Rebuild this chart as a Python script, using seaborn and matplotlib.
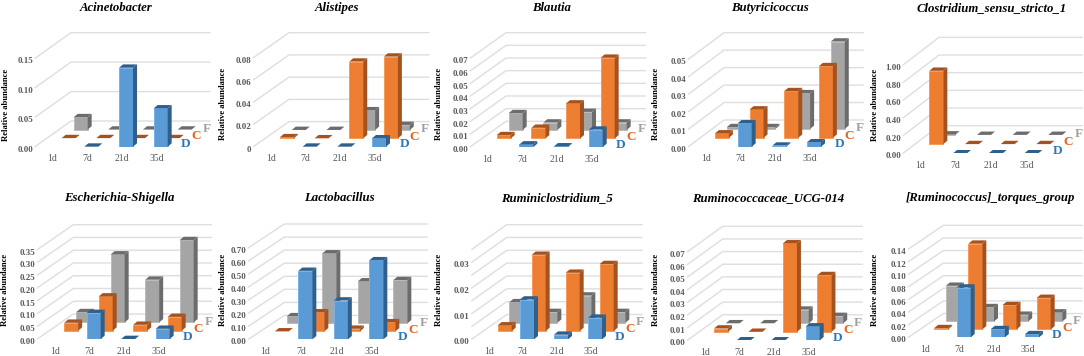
import numpy as np
import pandas as pd
import seaborn as sns
import matplotlib
matplotlib.use("Agg")
import matplotlib.pyplot as plt
from matplotlib.transforms import ScaledTranslation

days = ["1d", "7d", "21d", "35d"]
genera = ["Acinetobacter", "Alistipes", "Blautia", "Butyricicoccus",
          "Clostridium_sensu_stricto_1", "Escherichia-Shigella", "Lactobacillus",
          "Ruminiclostridium_5", "Ruminococcaceae_UCG-014", "[Ruminococcus]_torques_group"]
values_D = [[np.nan, 0, .134, .065], [np.nan, 0, 0, .0075], [np.nan, .002, .0005, .0137],
            [np.nan, .0134, .0006, .0025], [np.nan, 0, 0, 0], [np.nan, .102, 0, .04],
            [np.nan, .524, .297, .605], [np.nan, .0155, .0018, .0084],
            [np.nan, 0, 0, .011], [np.nan, .079, .013, .005]]
values_C = [[0, 0, 0, 0], [.001, 0, .069, .0735], [.0026, .0084, .0276, .0637],
            [.0025, .0162, .0267, .041], [.83, 0, 0, 0], [.031, .134, .023, .054],
            [0, .146, .02, .07], [.0022, .0297, .0227, .0261],
            [.0026, 0, .07, .0449], [.002, .136, .0386, .05]]
values_F = [[.021, 0, 0, 0], [0, 0, .0177, .0045], [.0132, .0058, .0142, .0058],
            [.001, .001, .0204, .05], [.005, 0, 0, 0], [.04, .266, .167, .322],
            [.055, .536, .322, .332], [.008, .0042, .0106, .0042],
            [0, 0, .0108, .0058], [.0566, .0227, .0106, .0143]]
tick_labels = [["0.00", "0.05", "0.10", "0.15"],
               ["0", "0.02", "0.04", "0.06", "0.08"],
               ["0.00", "0.01", "0.02", "0.03", "0.04", "0.05", "0.06", "0.07"],
               ["0.00", "0.01", "0.02", "0.03", "0.04", "0.05"],
               ["0.00", "0.20", "0.40", "0.60", "0.80", "1.00"],
               ["0.00", "0.05", "0.10", "0.15", "0.20", "0.25", "0.30", "0.35"],
               ["0.00", "0.10", "0.20", "0.30", "0.40", "0.50", "0.60", "0.70"],
               ["0.00", "0.01", "0.02", "0.03"],
               ["0.00", "0.01", "0.02", "0.03", "0.04", "0.05", "0.06", "0.07"],
               ["0.00", "0.02", "0.04", "0.06", "0.08", "0.10", "0.12", "0.14"]]
grid_steps = [.05, .02, .01, .01, .2, .05, .1, .005, .01, .02]
grid_tops = [.15, .08, .07, .05, 1.0, .35, .7, .035, .07, .14]

# layout, in reference pixels: crop offset and positions inside a 3x crop
W, H = 1084, 356
offsets = [(0, 0), (220, 0), (435, 0), (650, 0), (864, 0),
           (0, 178), (220, 178), (435, 178), (650, 178), (864, 178)]
# front x, front zero y, back x, right x, back top y, px per unit, first D (7d) left, spacing
geom = [(105, 440, 213, 630, 98, 1767, 253, 104),
        (100, 440, 207, 627, 98, 3335, 248, 104),
        (105, 441, 213, 632, 98, 3800, 253, 104),
        (115, 440, 222, 640, 98, 5240, 263, 104),
        (117, 460, 225, 655, 112, 265, 267, 107),
        (112, 483, 220, 635, 140, 766, 260, 103.5),
        (85, 484, 193, 622, 138, 392, 235, 106.5),
        (110, 484, 215, 622, 140, 7700, 255, 102),
        (112, 487, 218, 637, 145, 3790, 260, 103.5),
        (133, 478, 238, 655, 142, 1890, 278, 102.5)]
title_xy = [(116, 8), (337, 8), (552, 8), (770, 8), (992, 8),
            (119, 198), (339, 198), (557, 198), (768, 198), (990, 198)]
ylabel_xy = [(6, 105), (223, 104), (439, 104), (656, 104), (875, 105),
             (5, 290), (223, 290), (439, 290), (656, 290), (875, 290)]
letter_nudge = {"D": -0.5, "C": -2, "F": -3.5}    # pixels
letter_lift = {"D": 7, "C": 5, "F": 2}      # crop pixels above the row's floor

series = [("F", values_F, 2), ("C", values_C, 1), ("D", values_D, 0)]
face = {"D": "#5B9BD5", "C": "#ED7D31", "F": "#A5A5A5"}
edge = {"D": "#78B2E8", "C": "#F79A58", "F": "#BCBCBC"}
dark = {"D": "#2F5F8C", "C": "#A6521E", "F": "#6C6C6C"}
letter = {"D": "#2E75B6", "C": "#E8601C", "F": "#A0A0A0"}
text_gray = "#595959"

sns.set_theme(style="white")
plt.rcParams["font.family"] = ["Liberation Serif", "DejaVu Serif"]
fig = plt.figure(figsize=(W / 100, H / 100), dpi=100)
fig.patch.set_facecolor("white")

for i, name in enumerate(genera):
    ox, oy = offsets[i]
    fx, y0, bx, rx, ty, scale, d7, sp = geom[i]
    L, R = ox + fx / 3, ox + rx / 3
    T, B = oy + ty / 3, oy + y0 / 3
    ax = fig.add_axes([L / W, 1 - B / H, (R - L) / W, (B - T) / H])
    ax.set_facecolor("none")
    ymax = (y0 - ty) / scale
    x_at = lambda z: (z - d7) / sp + 1          # zoom px to category units
    row_dx = ((bx - fx) / 3) / sp
    depth_y = ((y0 - ty) - grid_tops[i] * scale) / scale
    row_dy = depth_y / 3
    bar_w = 42 / sp
    ddx, ddy = 12 / sp, 10 / scale

    # walls
    levels = np.arange(0, grid_tops[i] + grid_steps[i] / 2, grid_steps[i])
    for v in levels:
        ax.plot([x_at(fx), x_at(bx), x_at(rx)], [v, v + depth_y, v + depth_y],
                color="#DEDEDE", lw=1.0, zorder=1, clip_on=False)

    # bars
    for key, vals, row in series:
        df = pd.DataFrame({"pos": np.arange(4) + row * row_dx + bar_w / 2,
                           "value": vals[i]}).dropna()
        before = len(ax.patches)
        z = 3 + 3 * (2 - row)
        sns.barplot(data=df, x="pos", y="value", native_scale=True, width=bar_w,
                    color=face[key], saturation=1, errorbar=None, ax=ax,
                    bottom=row * row_dy + 0.0, edgecolor=edge[key], linewidth=0.7, zorder=z)
        for rect in ax.patches[before:]:
            x, y, w, h = rect.get_x(), rect.get_y(), rect.get_width(), rect.get_height()
            ax.fill([x, x + w, x + w + ddx, x + ddx],
                    [y + h, y + h, y + h + ddy, y + h + ddy], color=dark[key], lw=0, zorder=z)
            ax.fill([x + w, x + w + ddx, x + w + ddx, x + w],
                    [y, y + ddy, y + h + ddy, y + h], color=dark[key], lw=0, zorder=z)
            if h == 0:
                rect.set_visible(False)
        ax.text(4 + row * row_dx + (letter_nudge[key] * 3 - 6) / sp,
                row * row_dy + letter_lift[key] / scale,
                key, color=letter[key], fontsize=9.5, fontweight="bold",
                ha="center", va="center", zorder=20)

    ax.set_xlim(x_at(fx), x_at(rx))
    ax.set_ylim(0, ymax)
    ax.set_xlabel("")
    ax.set_ylabel("")
    ax.set_xticks(np.arange(4) + 8 / sp, days)
    yt = [float(t) for t in tick_labels[i]]
    ax.set_yticks(yt, tick_labels[i])
    ax.tick_params(axis="both", length=0)
    ax.tick_params(axis="x", pad=5.5, labelsize=7, labelcolor=text_gray)
    ax.tick_params(axis="y", pad=1.5, labelsize=6.4, labelcolor=text_gray)
    shift = ScaledTranslation(0, -2 / 100, fig.dpi_scale_trans)
    for lab in ax.get_yticklabels():
        lab.set_transform(lab.get_transform() + shift)
        lab.set_fontweight("bold")
    sns.despine(ax=ax, left=True, bottom=True)

    tx, tyy = title_xy[i]
    fig.text(tx / W, 1 - tyy / H, name, fontsize=9.2, fontweight="bold", fontstyle="italic",
             ha="center", va="center", color="black")
    lx, ly = ylabel_xy[i]
    fig.text(lx / W, 1 - ly / H, "Relative abundance", fontsize=6.2, fontweight="bold",
             rotation=90, ha="center", va="center", color="black")

fig.savefig("out.png", dpi=100)
